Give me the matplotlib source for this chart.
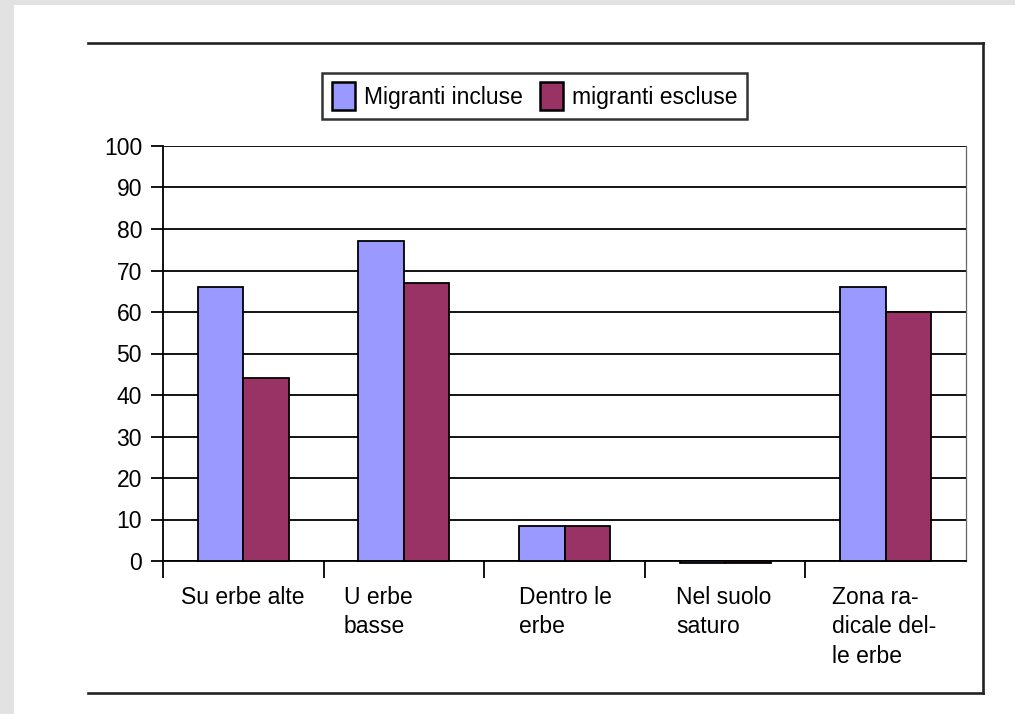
import matplotlib
matplotlib.use("Agg")
import matplotlib.pyplot as plt
from matplotlib.lines import Line2D
from matplotlib.patches import Rectangle
import numpy as np

# Habitat categories and percentages for the two groupings
categories = ["Su erbe alte", "U erbe\nbasse", "Dentro le\nerbe",
              "Nel suolo\nsaturo", "Zona ra-\ndicale del-\nle erbe"]
series_names = ["Migranti incluse", "migranti escluse"]
incluse = [66, 77, 8.5, -0.4, 66]
escluse = [44, 67, 8.5, -0.4, 60]
y_ticks = [0, 10, 20, 30, 40, 50, 60, 70, 80, 90, 100]

# Layout helpers (label left edge relative to category centre, in category units)
label_shift = [-0.386, -0.374, -0.286, -0.305, -0.336]
colors = ["#9999FF", "#993366"]

plt.rcParams["font.family"] = ["Liberation Sans", "DejaVu Sans"]
FS = 16.5

fig = plt.figure(figsize=(10.15, 7.14), dpi=100)
fig.patch.set_facecolor("#e2e2e2")
# white sheet behind the chart
fig.add_artist(Rectangle((14 / 1015, 0), 1 - 14 / 1015, 1 - 5 / 714,
                         transform=fig.transFigure, facecolor="white",
                         edgecolor="none", zorder=0))

ax = fig.add_axes([163 / 1015, 1 - 561 / 714, (966 - 163) / 1015, (561 - 146) / 714])
ax.set_facecolor("white")

x = np.arange(len(categories))
w = 0.283
ax.bar(x - w / 2, incluse, w, color=colors[0], edgecolor="black",
       linewidth=1.3, zorder=3, clip_on=False, label=series_names[0])
ax.bar(x + w / 2, escluse, w, color=colors[1], edgecolor="black",
       linewidth=1.3, zorder=3, clip_on=False, label=series_names[1])

ax.set_xlim(-0.5, len(categories) - 0.5)
ax.set_ylim(0, 100)
ax.set_yticks(y_ticks)
ax.set_yticklabels([str(v) for v in y_ticks], fontsize=FS)
ax.yaxis.grid(True, color="black", linewidth=1.3, zorder=1)
ax.set_axisbelow(True)

# category separators below the axis (none at the far right edge)
ax.set_xticks(np.arange(len(categories)) - 0.5)
ax.set_xticklabels([])
ax.tick_params(axis="x", length=12, width=1.3, direction="out", color="black")
ax.tick_params(axis="y", length=8.6, width=1.3, direction="out", pad=6.5,
               color="black")

for side in ["left", "bottom"]:
    ax.spines[side].set_linewidth(1.3)
    ax.spines[side].set_color("black")
ax.spines["top"].set_visible(False)
ax.spines["right"].set_color("#666666")
ax.spines["right"].set_linewidth(0.9)

for i, lab in enumerate(categories):
    ax.text(i + label_shift[i], -(586 - 561) / 415, lab, transform=ax.get_xaxis_transform(),
            ha="left", va="top", fontsize=FS, linespacing=1.36)

handles, labels = ax.get_legend_handles_labels()
leg = fig.legend(handles, labels, loc="center", bbox_to_anchor=(534.5 / 1015, 1 - 96 / 714),
                 ncol=2, fontsize=FS, frameon=True, fancybox=False,
                 handlelength=1.0, handleheight=1.45, handletextpad=0.4,
                 columnspacing=0.75, borderpad=0.42, borderaxespad=0)
leg.get_frame().set_edgecolor("black")
leg.get_frame().set_linewidth(1.8)
for p in leg.get_patches():
    p.set_linewidth(1.8)

# outer chart frame (top, right and bottom sides)
fx0, fx1 = 88 / 1015, 983 / 1015
fy0, fy1 = 1 - 693 / 714, 1 - 43 / 714
for xs, ys in [((fx0, fx1), (fy1, fy1)), ((fx1, fx1), (fy1, fy0)), ((fx0, fx1), (fy0, fy0))]:
    fig.add_artist(Line2D(xs, ys, color="#222222", linewidth=1.9,
                          transform=fig.transFigure, solid_capstyle="projecting"))

fig.savefig("out.png", dpi=100, facecolor=fig.get_facecolor())
